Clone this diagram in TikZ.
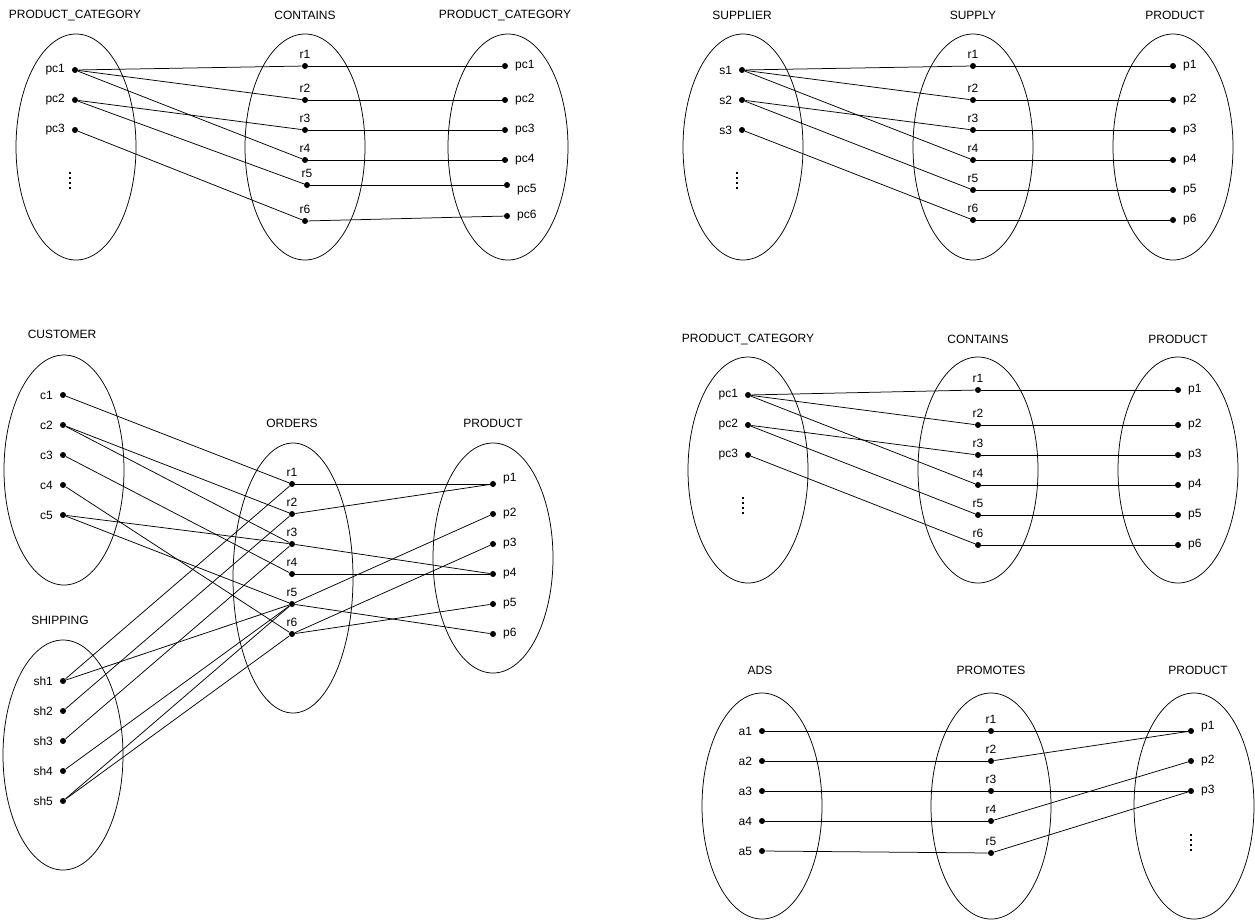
\documentclass[tikz,border=0pt]{standalone}
\usepackage{fontspec}
\setmainfont{Liberation Sans}
\usetikzlibrary{shapes.geometric}

\tikzset{
  dot/.style={circle,fill=black,inner sep=0pt,minimum size=6pt},
  set/.style={ellipse,draw,inner sep=0pt,minimum width=120pt,minimum height=226pt},
  title/.style={font=\fontsize{12}{14}\selectfont},
  every label/.style={font=\fontsize{12}{14}\selectfont},
  left tag/.style={label={[label distance=3pt]left:#1}},
  right tag/.style={label={[label distance=3pt]right:#1}},
  top tag/.style={label={[label distance=0pt]above:#1}},
  moredots/.style={line width=1.5pt,dash pattern=on 1.5pt off 3.5pt}
}

\begin{document}
\begin{tikzpicture}[x=1pt,y=-1pt,line width=0.75pt]
\fill[white](0,0) rectangle (1255,922);
\useasboundingbox (0,0) rectangle (1255,922);

% top left: product_category - contains - product_category
\node[title](tlt1) at (75,15) {PRODUCT\_CATEGORY};
\node[title](tlt2) at (305,15) {CONTAINS};
\node[title](tlt3) at (505,15) {PRODUCT\_CATEGORY};
\node[set](tls1) at (76,147) {};
\node[set](tls2) at (305,147) {};
\node[set](tls3) at (508,147) {};
\node[dot,left tag=pc1](tlpc1) at (75,70) {};
\node[dot,left tag=pc2](tlpc2) at (75,100) {};
\node[dot,left tag=pc3](tlpc3) at (75,130) {};
\draw[moredots](70,172)--(70,190);
\node[dot,top tag=r1](tlr1) at (305,66) {};
\node[dot,top tag=r2](tlr2) at (305,100) {};
\node[dot,top tag=r3](tlr3) at (305,130) {};
\node[dot,top tag=r4](tlr4) at (305,160) {};
\node[dot,top tag=r5](tlr5) at (307,185) {};
\node[dot,top tag=r6](tlr6) at (305,221) {};
\node[dot,right tag=pc1](tlq1) at (505,66) {};
\node[dot,right tag=pc2](tlq2) at (505,100) {};
\node[dot,right tag=pc3](tlq3) at (505,130) {};
\node[dot,right tag=pc4](tlq4) at (505,160) {};
\node[dot,label={[yshift=-5pt,label distance=3pt]right:pc5}](tlq5) at (507,185) {};
\node[dot,right tag=pc6](tlq6) at (507,216) {};
\draw(tlpc1)--(tlr1);
\draw(tlpc1)--(tlr2);
\draw(tlpc1)--(tlr4);
\draw(tlpc2)--(tlr3);
\draw(tlpc2)--(tlr5);
\draw(tlpc3)--(tlr6);
\draw(tlr1)--(tlq1);
\draw(tlr2)--(tlq2);
\draw(tlr3)--(tlq3);
\draw(tlr4)--(tlq4);
\draw(tlr5)--(tlq5);
\draw(tlr6)--(tlq6);

% top right: supplier - supply - product
\node[title](trt1) at (742,15) {SUPPLIER};
\node[title](trt2) at (973,15) {SUPPLY};
\node[title](trt3) at (1175,15) {PRODUCT};
\node[set](trs1) at (743,147) {};
\node[set](trs2) at (973,147) {};
\node[set](trs3) at (1173,147) {};
\node[dot,left tag=s1](trs1d) at (742,70) {};
\node[dot,left tag=s2](trs2d) at (742,100) {};
\node[dot,left tag=s3](trs3d) at (742,130) {};
\draw[moredots](737,172)--(737,190);
\node[dot,top tag=r1](trr1) at (973,66) {};
\node[dot,top tag=r2](trr2) at (973,100) {};
\node[dot,top tag=r3](trr3) at (973,130) {};
\node[dot,top tag=r4](trr4) at (973,160) {};
\node[dot,top tag=r5](trr5) at (973,190) {};
\node[dot,top tag=r6](trr6) at (973,220) {};
\node[dot,right tag=p1](trp1) at (1173,66) {};
\node[dot,right tag=p2](trp2) at (1173,100) {};
\node[dot,right tag=p3](trp3) at (1173,130) {};
\node[dot,right tag=p4](trp4) at (1173,160) {};
\node[dot,right tag=p5](trp5) at (1173,190) {};
\node[dot,right tag=p6](trp6) at (1173,220) {};
\draw(trs1d)--(trr1);
\draw(trs1d)--(trr2);
\draw(trs1d)--(trr4);
\draw(trs2d)--(trr3);
\draw(trs2d)--(trr5);
\draw(trs3d)--(trr6);
\draw(trr1)--(trp1);
\draw(trr2)--(trp2);
\draw(trr3)--(trp3);
\draw(trr4)--(trp4);
\draw(trr5)--(trp5);
\draw(trr6)--(trp6);

% middle right: product_category - contains - product
\node[title](mrt1) at (748,339) {PRODUCT\_CATEGORY};
\node[title](mrt2) at (978,339) {CONTAINS};
\node[title](mrt3) at (1178,339) {PRODUCT};
\node[set](mrs1) at (748,470) {};
\node[set](mrs2) at (978,470) {};
\node[set](mrs3) at (1178,470) {};
\node[dot,left tag=pc1](mrpc1) at (748,395) {};
\node[dot,left tag=pc2](mrpc2) at (748,425) {};
\node[dot,left tag=pc3](mrpc3) at (748,455) {};
\draw[moredots](743,497)--(743,515);
\node[dot,top tag=r1](mrr1) at (978,390) {};
\node[dot,top tag=r2](mrr2) at (978,425) {};
\node[dot,top tag=r3](mrr3) at (978,455) {};
\node[dot,top tag=r4](mrr4) at (978,485) {};
\node[dot,top tag=r5](mrr5) at (978,515) {};
\node[dot,top tag=r6](mrr6) at (978,545) {};
\node[dot,right tag=p1](mrp1) at (1178,390) {};
\node[dot,right tag=p2](mrp2) at (1178,425) {};
\node[dot,right tag=p3](mrp3) at (1178,455) {};
\node[dot,right tag=p4](mrp4) at (1178,485) {};
\node[dot,right tag=p5](mrp5) at (1178,515) {};
\node[dot,right tag=p6](mrp6) at (1178,545) {};
\draw(mrpc1)--(mrr1);
\draw(mrpc1)--(mrr2);
\draw(mrpc1)--(mrr4);
\draw(mrpc2)--(mrr3);
\draw(mrpc2)--(mrr5);
\draw(mrpc3)--(mrr6);
\draw(mrr1)--(mrp1);
\draw(mrr2)--(mrp2);
\draw(mrr3)--(mrp3);
\draw(mrr4)--(mrp4);
\draw(mrr5)--(mrp5);
\draw(mrr6)--(mrp6);

% bottom right: ads - promotes - product
\node[title](brt1) at (760,670) {ADS};
\node[title](brt2) at (991,670) {PROMOTES};
\node[title](brt3) at (1198,670) {PRODUCT};
\node[set](brs1) at (762,806) {};
\node[set](brs2) at (991,806) {};
\node[set](brs3) at (1194,806) {};
\node[dot,left tag=a1](bra1) at (762,731) {};
\node[dot,left tag=a2](bra2) at (762,761) {};
\node[dot,left tag=a3](bra3) at (762,791) {};
\node[dot,left tag=a4](bra4) at (762,821) {};
\node[dot,left tag=a5](bra5) at (762,851) {};
\node[dot,top tag=r1](brr1) at (991,731) {};
\node[dot,top tag=r2](brr2) at (991,761) {};
\node[dot,top tag=r3](brr3) at (991,791) {};
\node[dot,top tag=r4](brr4) at (991,821) {};
\node[dot,top tag=r5](brr5) at (991,853) {};
\node[dot,label={[yshift=4pt,label distance=3pt]right:p1}](brp1) at (1191,731) {};
\node[dot,right tag=p2](brp2) at (1191,761) {};
\node[dot,right tag=p3](brp3) at (1191,791) {};
\draw[moredots](1191,834)--(1191,852);
\draw(bra1)--(brr1);
\draw(bra2)--(brr2);
\draw(bra3)--(brr3);
\draw(bra4)--(brr4);
\draw(bra5)--(brr5);
\draw(brr1)--(brp1);
\draw(brr2)--(brp1);
\draw(brr3)--(brp3);
\draw(brr4)--(brp2);
\draw(brr5)--(brp3);

% bottom left: customer, shipping - orders - product
\node[title](blt1) at (62,334) {CUSTOMER};
\node[title](blt2) at (292,423) {ORDERS};
\node[title](blt3) at (493,423) {PRODUCT};
\node[title](blt4) at (60,620) {SHIPPING};
\node[set,minimum height=230pt](bls1) at (64,470) {};
\node[set,minimum height=270pt](bls2) at (293,578) {};
\node[set,minimum height=230pt](bls3) at (493,558) {};
\node[set,minimum height=230pt](bls4) at (63,755) {};
\node[dot,left tag=c1](blc1) at (63,395) {};
\node[dot,left tag=c2](blc2) at (63,425) {};
\node[dot,left tag=c3](blc3) at (63,455) {};
\node[dot,left tag=c4](blc4) at (63,485) {};
\node[dot,left tag=c5](blc5) at (63,515) {};
\node[dot,top tag=r1](blr1) at (292,484) {};
\node[dot,top tag=r2](blr2) at (292,514) {};
\node[dot,top tag=r3](blr3) at (292,544) {};
\node[dot,top tag=r4](blr4) at (292,574) {};
\node[dot,top tag=r5](blr5) at (292,604) {};
\node[dot,top tag=r6](blr6) at (292,634) {};
\node[dot,label={[yshift=5pt,label distance=3pt]right:p1}](blp1) at (493,484) {};
\node[dot,right tag=p2](blp2) at (493,514) {};
\node[dot,right tag=p3](blp3) at (493,544) {};
\node[dot,right tag=p4](blp4) at (493,574) {};
\node[dot,right tag=p5](blp5) at (493,604) {};
\node[dot,right tag=p6](blp6) at (493,634) {};
\node[dot,left tag=sh1](blsh1) at (63,681) {};
\node[dot,left tag=sh2](blsh2) at (63,711) {};
\node[dot,left tag=sh3](blsh3) at (63,741) {};
\node[dot,left tag=sh4](blsh4) at (63,771) {};
\node[dot,left tag=sh5](blsh5) at (63,801) {};
\draw(blc1)--(blr1);
\draw(blc2)--(blr2);
\draw(blc2)--(blr3);
\draw(blc3)--(blr4);
\draw(blc4)--(blr6);
\draw(blc5)--(blr3);
\draw(blc5)--(blr5);
\draw(blr1)--(blp1);
\draw(blr2)--(blp1);
\draw(blr3)--(blp4);
\draw(blr4)--(blp4);
\draw(blr5)--(blp2);
\draw(blr5)--(blp6);
\draw(blr6)--(blp3);
\draw(blr6)--(blp5);
\draw(blsh1)--(blr1);
\draw(blsh1)--(blr5);
\draw(blsh2)--(blr2);
\draw(blsh3)--(blr3);
\draw(blsh4)--(blr5);
\draw(blsh5)--(blr5);
\draw(blsh5)--(blr6);

\end{tikzpicture}
\end{document}
